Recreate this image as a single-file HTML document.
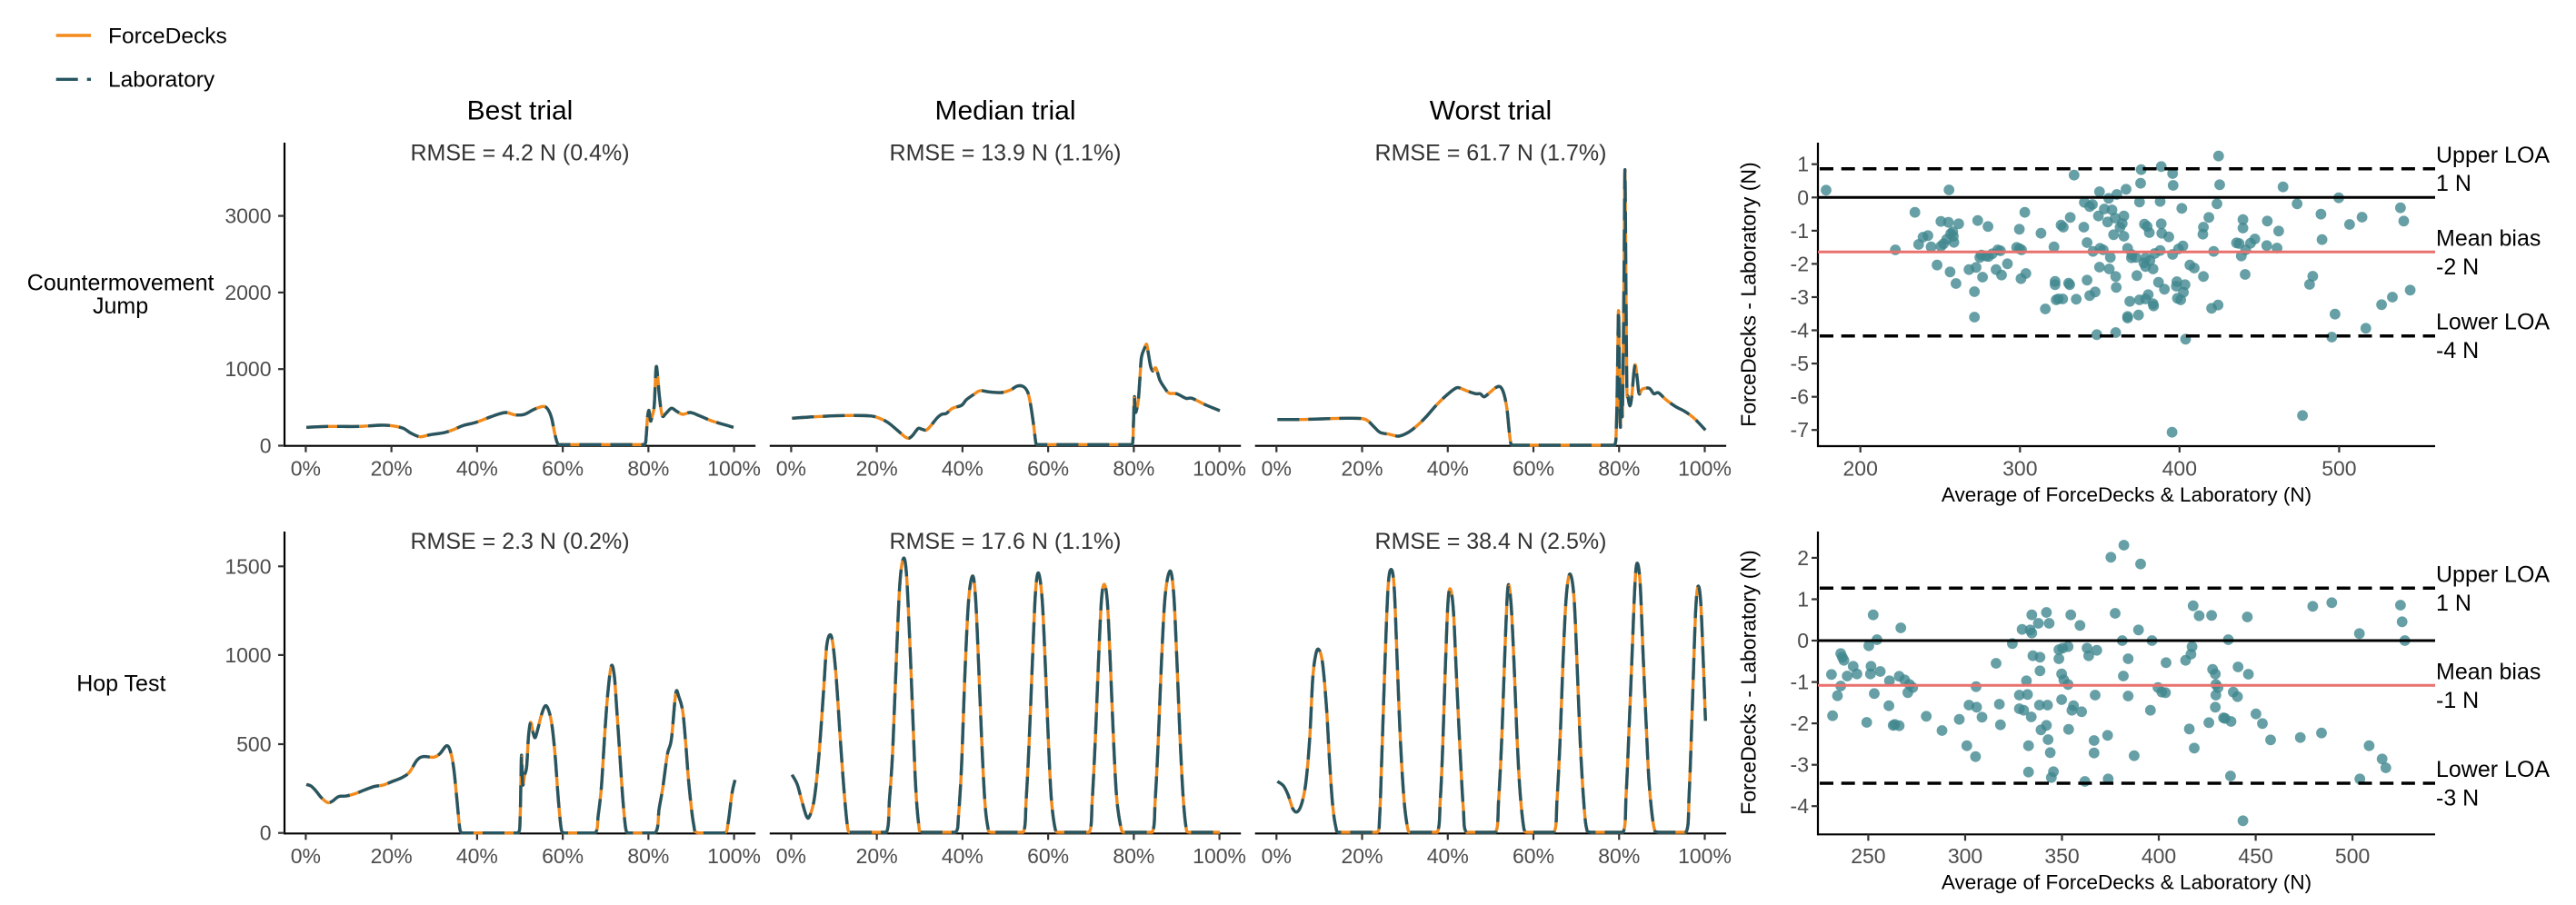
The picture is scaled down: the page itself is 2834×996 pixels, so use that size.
<!DOCTYPE html>
<html>
<head>
<meta charset="utf-8">
<style>
  html,body{margin:0;padding:0;background:#fff;}
  svg{display:block;}
  text{font-family:"Liberation Sans", Arial, sans-serif;}
  .tk{font-size:23px;fill:#4d4d4d;}
  .ax{stroke:#000;stroke-width:2.2;fill:none;}
  .tm{stroke:#333;stroke-width:2.2;}
  .rm{font-size:25px;fill:#333;text-anchor:middle;}
  .ttl{font-size:30px;fill:#000;text-anchor:middle;}
  .lab{font-size:25px;fill:#000;}
</style>
</head>
<body>
<svg id="c" xmlns="http://www.w3.org/2000/svg" width="2834" height="996" viewBox="0 0 2834 996">
<rect width="2834" height="996" fill="#fff"/>

<!-- Legend -->
<line x1="61.7" y1="39" x2="100" y2="39" stroke="#F28A1C" stroke-width="3.4"/>
<line x1="61.7" y1="87.3" x2="100" y2="87.3" stroke="#275663" stroke-width="3.4" stroke-dasharray="24 10"/>
<text x="119" y="47.3" style="font-size:24.5px">ForceDecks</text>
<text x="119" y="95.7" style="font-size:24.5px">Laboratory</text>

<!-- Column titles -->
<text class="ttl" x="572" y="131.7">Best trial</text>
<text class="ttl" x="1106" y="131.7">Median trial</text>
<text class="ttl" x="1640" y="131.7">Worst trial</text>

<!-- RMSE -->
<text class="rm" x="572" y="176.7">RMSE = 4.2 N (0.4%)</text>
<text class="rm" x="1106" y="176.7">RMSE = 13.9 N (1.1%)</text>
<text class="rm" x="1640" y="176.7">RMSE = 61.7 N (1.7%)</text>
<text class="rm" x="572" y="604">RMSE = 2.3 N (0.2%)</text>
<text class="rm" x="1106" y="604">RMSE = 17.6 N (1.1%)</text>
<text class="rm" x="1640" y="604">RMSE = 38.4 N (2.5%)</text>

<!-- Row labels -->
<text class="lab" x="132.6" y="319.3" text-anchor="middle">Countermovement</text>
<text class="lab" x="132.6" y="345" text-anchor="middle">Jump</text>
<text class="lab" x="133.3" y="760.7" text-anchor="middle">Hop Test</text>

<!-- Line panel axes row 1 -->
<line class="ax" x1="313" y1="157" x2="313" y2="491.8"/>
<line class="ax" x1="312" y1="490.7" x2="831.2" y2="490.7"/>
<line class="ax" x1="846.8" y1="490.7" x2="1365.2" y2="490.7"/>
<line class="ax" x1="1380.7" y1="490.7" x2="1899.1" y2="490.7"/>
<!-- Line panel axes row 2 -->
<line class="ax" x1="313" y1="585" x2="313" y2="918.4"/>
<line class="ax" x1="312" y1="917.3" x2="831.2" y2="917.3"/>
<line class="ax" x1="846.8" y1="917.3" x2="1365.2" y2="917.3"/>
<line class="ax" x1="1380.7" y1="917.3" x2="1899.1" y2="917.3"/>

<!-- y ticks line panels -->
<g class="tm">
<line x1="306" y1="490.5" x2="313" y2="490.5"/>
<line x1="306" y1="406.2" x2="313" y2="406.2"/>
<line x1="306" y1="321.9" x2="313" y2="321.9"/>
<line x1="306" y1="237.6" x2="313" y2="237.6"/>
<line x1="306" y1="916.7" x2="313" y2="916.7"/>
<line x1="306" y1="819" x2="313" y2="819"/>
<line x1="306" y1="720.9" x2="313" y2="720.9"/>
<line x1="306" y1="623.3" x2="313" y2="623.3"/>
</g>
<g class="tk" text-anchor="end">
<text x="298.5" y="498.5">0</text>
<text x="298.5" y="414.2">1000</text>
<text x="298.5" y="329.9">2000</text>
<text x="298.5" y="245.6">3000</text>
<text x="298.5" y="924.7">0</text>
<text x="298.5" y="827">500</text>
<text x="298.5" y="728.9">1000</text>
<text x="298.5" y="631.3">1500</text>
</g>

<g id="xt"></g>

<!-- Bland-Altman row 1 axes -->
<line class="ax" x1="2000" y1="157" x2="2000" y2="492"/>
<line class="ax" x1="1999" y1="491" x2="2679" y2="491"/>
<g class="tm">
<line x1="2046.7" y1="491" x2="2046.7" y2="498"/>
<line x1="2222.3" y1="491" x2="2222.3" y2="498"/>
<line x1="2397.8" y1="491" x2="2397.8" y2="498"/>
<line x1="2573.4" y1="491" x2="2573.4" y2="498"/>
<line x1="1993" y1="180.7" x2="2000" y2="180.7"/>
<line x1="1993" y1="217.3" x2="2000" y2="217.3"/>
<line x1="1993" y1="253.9" x2="2000" y2="253.9"/>
<line x1="1993" y1="290.4" x2="2000" y2="290.4"/>
<line x1="1993" y1="327" x2="2000" y2="327"/>
<line x1="1993" y1="363.5" x2="2000" y2="363.5"/>
<line x1="1993" y1="400.1" x2="2000" y2="400.1"/>
<line x1="1993" y1="436.7" x2="2000" y2="436.7"/>
<line x1="1993" y1="473.2" x2="2000" y2="473.2"/>
</g>
<g class="tk" text-anchor="end">
<text x="1990" y="188.7">1</text>
<text x="1990" y="225.3">0</text>
<text x="1990" y="261.9">-1</text>
<text x="1990" y="298.4">-2</text>
<text x="1990" y="335">-3</text>
<text x="1990" y="371.5">-4</text>
<text x="1990" y="408.1">-5</text>
<text x="1990" y="444.7">-6</text>
<text x="1990" y="481.2">-7</text>
</g>
<g class="tk" text-anchor="middle">
<text x="2046.7" y="523.3">200</text>
<text x="2222.3" y="523.3">300</text>
<text x="2397.8" y="523.3">400</text>
<text x="2573.4" y="523.3">500</text>
</g>
<text x="2339.5" y="552" text-anchor="middle" style="font-size:22.5px">Average of ForceDecks &amp; Laboratory (N)</text>
<text transform="translate(1931.5,324) rotate(-90)" text-anchor="middle" style="font-size:23px">ForceDecks - Laboratory (N)</text>

<!-- Bland-Altman row 2 axes -->
<line class="ax" x1="2000" y1="585" x2="2000" y2="919.3"/>
<line class="ax" x1="1999" y1="918.3" x2="2679" y2="918.3"/>
<g class="tm">
<line x1="2055.4" y1="918.3" x2="2055.4" y2="925.3"/>
<line x1="2162" y1="918.3" x2="2162" y2="925.3"/>
<line x1="2268.5" y1="918.3" x2="2268.5" y2="925.3"/>
<line x1="2375" y1="918.3" x2="2375" y2="925.3"/>
<line x1="2481.6" y1="918.3" x2="2481.6" y2="925.3"/>
<line x1="2588.1" y1="918.3" x2="2588.1" y2="925.3"/>
<line x1="1993" y1="613.9" x2="2000" y2="613.9"/>
<line x1="1993" y1="659.5" x2="2000" y2="659.5"/>
<line x1="1993" y1="705" x2="2000" y2="705"/>
<line x1="1993" y1="750.6" x2="2000" y2="750.6"/>
<line x1="1993" y1="796.1" x2="2000" y2="796.1"/>
<line x1="1993" y1="841.7" x2="2000" y2="841.7"/>
<line x1="1993" y1="887.2" x2="2000" y2="887.2"/>
</g>
<g class="tk" text-anchor="end">
<text x="1990" y="621.9">2</text>
<text x="1990" y="667.5">1</text>
<text x="1990" y="713">0</text>
<text x="1990" y="758.6">-1</text>
<text x="1990" y="804.1">-2</text>
<text x="1990" y="849.7">-3</text>
<text x="1990" y="895.2">-4</text>
</g>
<g class="tk" text-anchor="middle">
<text x="2055.4" y="950">250</text>
<text x="2162" y="950">300</text>
<text x="2268.5" y="950">350</text>
<text x="2375" y="950">400</text>
<text x="2481.6" y="950">450</text>
<text x="2588.1" y="950">500</text>
</g>
<text x="2339.5" y="978.7" text-anchor="middle" style="font-size:22.5px">Average of ForceDecks &amp; Laboratory (N)</text>
<text transform="translate(1931.5,751) rotate(-90)" text-anchor="middle" style="font-size:23px">ForceDecks - Laboratory (N)</text>

<g id="pts"></g>
<g id="curves"></g>

<!-- BA reference lines row 1 -->
<line x1="2000" y1="217.3" x2="2679" y2="217.3" stroke="#000" stroke-width="3"/>
<line x1="2000" y1="277.3" x2="2679" y2="277.3" stroke="#E8716D" stroke-width="3"/>
<line x1="2002" y1="185.7" x2="2679" y2="185.7" stroke="#000" stroke-width="3.5" stroke-dasharray="15 8.7"/>
<line x1="2002" y1="369.7" x2="2679" y2="369.7" stroke="#000" stroke-width="3.5" stroke-dasharray="15 8.7"/>
<!-- BA reference lines row 2 -->
<line x1="2000" y1="705" x2="2679" y2="705" stroke="#000" stroke-width="3"/>
<line x1="2000" y1="754.3" x2="2679" y2="754.3" stroke="#E8716D" stroke-width="3"/>
<line x1="2002" y1="647.3" x2="2679" y2="647.3" stroke="#000" stroke-width="3.5" stroke-dasharray="15 8.7"/>
<line x1="2002" y1="862" x2="2679" y2="862" stroke="#000" stroke-width="3.5" stroke-dasharray="15 8.7"/>

<!-- LOA labels -->
<g class="lab">
<text x="2680" y="179">Upper LOA</text>
<text x="2680" y="210">1 N</text>
<text x="2680" y="270.7">Mean bias</text>
<text x="2680" y="302">-2 N</text>
<text x="2680" y="362.5">Lower LOA</text>
<text x="2680" y="394">-4 N</text>
<text x="2680" y="640.3">Upper LOA</text>
<text x="2680" y="672">1 N</text>
<text x="2680" y="747.3">Mean bias</text>
<text x="2680" y="779">-1 N</text>
<text x="2680" y="855">Lower LOA</text>
<text x="2680" y="886.7">-3 N</text>
</g>
</svg>

<script>
(function(){
var NS='http://www.w3.org/2000/svg';
function el(tag,attrs,parent){var e=document.createElementNS(NS,tag);for(var k in attrs)e.setAttribute(k,attrs[k]);parent.appendChild(e);return e;}
function txt(tag,attrs,parent,s){var e=el(tag,attrs,parent);e.textContent=s;return e;}

/* x ticks & labels for line panels */
var xt=document.getElementById('xt');
var bases=[336.4,870.4,1404.3];
var labs=['0%','20%','40%','60%','80%','100%'];
[[490.7,523.3],[917.3,950]].forEach(function(r){
  bases.forEach(function(b){
    for(var i=0;i<6;i++){
      var x=b+i*94.24;
      el('line',{x1:x,y1:r[0],x2:x,y2:r[0]+7,stroke:'#333','stroke-width':2.2},xt);
      txt('text',{x:x,y:r[1],'text-anchor':'middle','class':'tk'},xt,labs[i]);
    }
  });
});

/* curves */
var cg=document.getElementById('curves');
function curve(ox,oy,a){
  var P=[];var maxY=-1e9;
  for(var i=0;i<a.length;i+=2){var p=[ox+a[i]/2.958, oy+a[i+1]/3];P.push(p);if(p[1]>maxY)maxY=p[1];}
  var d='M'+P[0][0].toFixed(2)+' '+P[0][1].toFixed(2);
  for(var i=0;i<P.length-1;i++){
    var p0=P[i-1]||P[i],p1=P[i],p2=P[i+1],p3=P[i+2]||P[i+1];
    var c1x=p1[0]+(p2[0]-p0[0])/6,c1y=p1[1]+(p2[1]-p0[1])/6;
    var c2x=p2[0]-(p3[0]-p1[0])/6,c2y=p2[1]-(p3[1]-p1[1])/6;
    var lo=Math.min(p1[0],p2[0]),hi=Math.max(p1[0],p2[0]);
    c1x=Math.min(hi,Math.max(lo,c1x));c2x=Math.min(hi,Math.max(lo,c2x));
    if(c1y>maxY)c1y=maxY;if(c2y>maxY)c2y=maxY;
    d+='C'+c1x.toFixed(2)+' '+c1y.toFixed(2)+' '+c2x.toFixed(2)+' '+c2y.toFixed(2)+' '+p2[0].toFixed(2)+' '+p2[1].toFixed(2);
  }
  el('path',{d:d,fill:'none',stroke:'#F28A1C','stroke-width':3.4,'stroke-linejoin':'round'},cg);
  el('path',{d:d,fill:'none',stroke:'#275663','stroke-width':3.4,'stroke-dasharray':'24 10','stroke-linejoin':'round'},cg);
}

curve(310,380,[80,271,150,268,250,268,320,264,360,266,395,274,420,290,450,302,480,296,530,288,560,278,590,265,630,255,670,240,700,229,730,222,760,230,790,228,820,212,850,202,865,210,878,240,888,290,898,325,910,328,1000,328,1100,328,1180,328,1186,300,1190,240,1195,215,1200,250,1205,235,1212,200,1218,75,1223,100,1229,170,1238,232,1250,225,1268,208,1285,218,1305,228,1330,222,1360,233,1400,250,1440,262,1470,271]);

curve(845,360,[78,301,150,296,250,292,330,293,360,300,390,315,420,340,445,362,458,367,470,358,488,335,500,337,515,340,530,325,550,300,565,288,580,285,600,268,630,258,645,240,670,222,690,210,720,214,760,216,790,207,810,195,830,196,845,215,855,260,865,330,872,385,880,388,1000,388,1100,388,1185,388,1189,320,1192,230,1195,280,1200,270,1205,240,1210,170,1215,100,1225,70,1232,57,1238,90,1245,130,1252,145,1262,135,1275,175,1290,200,1305,218,1330,220,1360,235,1380,235,1420,255,1470,276]);

curve(1380,170,[75,875,150,875,250,872,300,871,350,872,370,880,390,900,410,918,440,924,470,930,500,918,530,895,560,865,590,830,620,800,650,775,665,770,690,780,720,790,735,790,748,800,765,787,785,770,800,767,812,790,822,840,830,920,836,958,850,960,1000,960,1172,960,1178,900,1182,700,1185,515,1188,700,1191,900,1194,780,1198,850,1203,400,1206,50,1209,400,1212,760,1216,800,1222,830,1228,800,1235,720,1240,695,1246,740,1252,790,1262,775,1285,772,1300,790,1315,787,1340,810,1370,832,1400,848,1430,870,1468,910]);

curve(310,580,[80,850,95,855,110,870,130,895,150,910,165,905,185,890,210,888,240,880,270,868,300,857,330,852,360,840,390,828,415,810,440,770,460,758,495,760,515,748,537,722,550,745,560,800,570,900,580,1000,590,1010,700,1010,770,1010,776,950,780,755,784,850,790,820,797,790,803,690,810,645,818,680,825,695,835,660,845,620,858,590,870,610,880,660,890,760,900,900,910,1000,920,1010,1020,1010,1030,950,1040,860,1050,700,1060,560,1072,460,1082,490,1090,600,1100,750,1110,900,1120,1000,1130,1010,1215,1010,1228,930,1240,860,1255,750,1268,700,1282,550,1292,560,1305,610,1315,720,1325,850,1340,980,1355,1010,1440,1010,1452,980,1465,880,1475,835]);

curve(845,580,[78,818,95,850,110,905,125,955,135,955,150,900,165,760,180,550,190,400,200,357,210,380,222,500,235,700,248,880,260,1000,270,1008,385,1008,395,900,405,750,415,500,428,200,440,105,450,150,460,350,470,600,480,850,490,980,500,1008,610,1008,620,950,630,780,640,500,652,250,665,162,675,230,685,450,695,700,705,900,715,990,725,1008,830,1008,840,900,850,700,860,450,870,220,880,152,892,240,902,450,912,700,922,900,935,1000,945,1008,1045,1008,1055,900,1065,700,1075,450,1085,240,1095,190,1105,260,1115,480,1125,720,1135,900,1150,1000,1160,1008,1250,1008,1260,900,1270,700,1280,450,1292,230,1308,145,1320,220,1330,430,1340,680,1350,880,1360,990,1370,1008,1470,1008]);

curve(1380,580,[75,840,95,855,110,885,125,930,140,940,155,910,168,840,180,700,190,500,200,420,210,405,222,450,235,600,245,780,255,920,265,990,275,1008,400,1008,408,950,415,750,425,450,435,200,445,140,455,200,465,450,475,700,487,900,500,1000,510,1008,595,1008,605,900,612,750,622,450,630,250,638,205,648,280,658,500,670,750,680,930,690,1008,785,1008,795,900,805,700,815,420,825,200,835,250,845,450,855,700,865,880,878,1000,890,1008,975,1008,985,900,995,700,1005,430,1015,230,1027,155,1040,230,1050,450,1060,700,1070,880,1080,990,1095,1008,1200,1008,1210,880,1220,650,1230,400,1238,200,1245,120,1255,180,1265,420,1275,650,1285,850,1300,990,1315,1008,1405,1008,1415,880,1425,600,1435,300,1443,198,1452,240,1460,420,1468,640]);

/* scatter points */
var pg=document.getElementById('pts');
function pts(oy,a){
  for(var i=0;i<a.length;i+=2){
    el('circle',{cx:(1900+a[i]/1.679).toFixed(1),cy:(oy+a[i+1]/3).toFixed(1),r:5.9,fill:'#40878f','fill-opacity':0.8},pg);
  }
}
pts(140,[183,208,410,207,641,158,908,95,802,130,765,140,823,153,764,185,737,205,824,192,910,190,1027,197,688,213,705,235,720,222,1130,233,1053,253,347,281,550,281,660,248,670,262,675,255,697,270,762,247,800,245,840,268,905,253,1244,266,1250,310,1173,297,1150,321,1097,287,998,310,953,305,953,333,1019,343,1099,371,395,311,409,314,428,319,463,308,482,328,540,337,580,350,617,323,621,330,634,298,659,330,686,293,711,273,717,300,703,313,733,293,730,318,726,330,733,360,714,355,771,320,780,348,776,328,802,319,803,350,816,362,880,330,890,298,879,353,417,345,413,352,418,360,419,380,406,370,400,385,395,393,371,358,362,363,377,395,354,387,311,405,665,381,604,395,540,401,544,405,535,397,676,410,695,405,689,400,740,400,748,421,747,431,773,432,781,440,800,407,790,417,823,420,834,402,842,392,899,410,941,382,946,384,967,383,975,369,997,391,1016,399,958,405,950,425,708,430,755,430,467,430,470,422,478,425,500,405,505,408,490,418,483,427,388,455,412,478,447,470,460,463,497,470,507,488,518,451,472,495,423,516,543,500,552,483,688,462,706,468,718,493,773,460,787,468,770,448,855,455,863,465,880,493,957,486,606,509,606,520,633,520,631,515,665,505,719,529,797,512,831,510,846,520,843,545,830,525,757,490,457,543,680,544,670,556,612,567,620,567,645,568,608,570,588,600,744,575,762,570,778,553,773,567,787,583,788,590,808,535,832,565,838,570,895,598,907,587,1076,519,1082,492,1262,538,1229,561,1209,586,457,627,740,630,760,620,740,625,1123,617,1180,664,683,685,718,678,847,700,1117,693,1063,952,822,1007]);
pts(560,[709,160,733,120,764,182,270,350,321,393,563,350,590,342,635,350,717,345,652,385,575,378,595,378,545,398,560,400,563,410,760,400,861,320,872,353,895,352,961,357,1082,322,1117,310,1244,318,1247,373,1168,412,277,432,262,452,527,445,730,435,785,435,926,432,1252,435,210,478,213,490,216,500,233,520,240,545,222,552,193,547,266,520,283,537,265,545,318,553,328,565,300,568,337,580,343,590,334,607,272,610,210,585,204,617,497,510,565,485,578,490,578,535,553,568,613,465,620,460,630,455,613,495,618,545,622,565,630,580,665,460,668,485,683,467,741,495,732,552,811,508,847,500,859,455,857,480,897,530,902,545,903,580,907,590,944,522,963,546,460,587,540,615,555,613,540,660,548,665,562,687,577,648,592,648,618,630,640,650,655,670,680,615,741,618,796,590,803,605,810,607,903,615,902,655,935,605,943,620,195,683,299,650,307,715,310,712,318,716,258,705,368,685,397,732,429,695,447,648,461,655,471,688,503,645,505,713,580,730,590,715,593,762,631,728,637,665,782,665,917,690,920,692,931,702,890,706,854,727,977,677,989,709,1004,763,1059,755,1098,740,443,782,459,818,557,782,597,805,678,765,678,806,703,748,752,815,863,790,1186,782,1210,826,1217,855,557,869,603,868,599,887,661,900,704,892,930,882,1169,892,953,1030]);
})();
</script>
</body>
</html>
